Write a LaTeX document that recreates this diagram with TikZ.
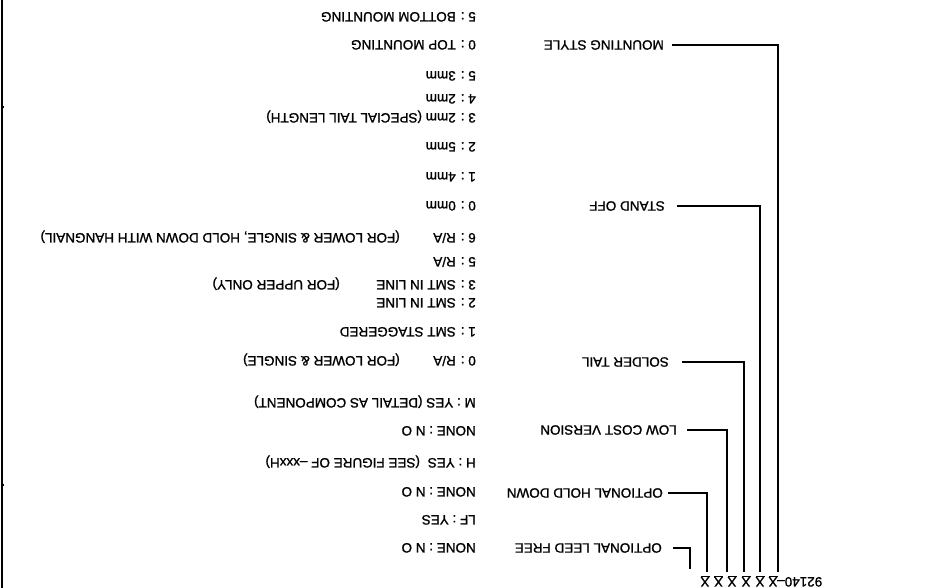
\documentclass[tikz,border=0pt]{standalone}
\usepackage{fontspec}
\setmainfont{Liberation Sans}
\newfontfamily\cadfont{Liberation Sans}[FakeBold=1.2,Ligatures=TeX]
\usetikzlibrary{calc}
\begin{document}
\begin{tikzpicture}[x=1pt,y=-1pt,
  txt/.style={rotate=180, inner sep=0pt, anchor=base west, font=\cadfont\fontsize{13.5}{15}\selectfont},
  lab/.style={txt, anchor=west},
  conn/.style={line width=1.6pt},
  border/.style={line width=2pt}]
\useasboundingbox (0,0) rectangle (944,588);
% left border with ticks
\draw[border] (1.5,0) -- (1.5,588);
\draw[line width=1.5pt] (1.5,107) -- (4,107) (1.5,485) -- (4,485);

% option values
\node[txt] (v1) at (476,12.2) {5 : BOTTOM MOUNTING};
\node[txt] (v2) at (476,40.2) {0 : TOP MOUNTING};
\node[txt] (v3) at (476,71.2) {5 : 3mm};
\node[txt] (v4) at (476,94.2) {4 : 2mm};
\node[txt] (v5) at (476,113.2) {3 : 2mm (SPECIAL TAIL LENGTH)};
\node[txt] (v6) at (476,142.2) {2 : 5mm};
\node[txt] (v7) at (476,172.2) {1 : 4mm};
\node[txt] (v8) at (476,201.2) {0 : 0mm};
\node[txt] (v9) at (476,233.2) {6 : R/A};
\node[txt] (p9) at (400,233.2) {(FOR LOWER \& SINGLE, HOLD DOWN WITH HANGNAIL)};
\node[txt] (v10) at (476,257.2) {5 : R/A};
\node[txt] (v11) at (476,280.2) {3 : SMT IN LINE};
\node[txt] (p11) at (340,280.2) {(FOR UPPER ONLY)};
\node[txt] (v12) at (476,298.2) {2 : SMT IN LINE};
\node[txt] (v13) at (476,327.2) {1 : SMT STAGGERED};
\node[txt] (v14) at (476,356.2) {0 : R/A};
\node[txt] (p14) at (400,356.2) {(FOR LOWER \& SINGLE)};
\node[txt] (v15) at (476,398.2) {M : YES (DETAIL AS COMPONENT)};
\node[txt] (v16) at (476,426.2) {NONE : N O};
\node[txt] (v17) at (476,458.2) {H : YES\hspace{0.3em} (SEE FIGURE OF –xxxH)};
\node[txt] (v18) at (476,487.2) {NONE : N O};
\node[txt] (v19) at (476,515.2) {LF : YES};
\node[txt] (v20) at (476,543.2) {NONE : N O};

% category labels
\node[lab] (ms) at (664,45) {MOUNTING STYLE};
\node[lab] (so) at (665,206) {STAND OFF};
\node[lab] (st) at (669,362) {SOLDER TAIL};
\node[lab] (lc) at (677,430) {LOW COST VERSION};
\node[lab] (hd) at (663,493) {OPTIONAL HOLD DOWN};
\node[lab] (lf) at (662,548) {OPTIONAL LEED FREE};

% part number
\node[txt, anchor=base east] (pn) at (777,577.2) {92140–};
\foreach \i/\xx in {1/705,2/718.5,3/732,4/746,5/760,6/773}{
  \node[txt, anchor=base] (x\i) at (\xx,577.2) {\underline{X}};
}

% connector end points
\coordinate (b1) at (690,569);
\coordinate (b2) at (707,572);
\coordinate (b3) at (727,572);
\coordinate (b4) at (744,572);
\coordinate (b5) at (760,572);
\coordinate (b6) at (778,572);

\draw[conn] ($(ms.west)+(8,0)$) -| (b6);
\draw[conn] ($(so.west)+(12,0)$) -| (b5);
\draw[conn] ($(st.west)+(13,0)$) -| (b4);
\draw[conn] ($(lc.west)+(10,0)$) -| (b3);
\draw[conn] ($(hd.west)+(5,0)$) -| (b2);
\draw[conn] ($(lf.west)+(11,0)$) -| (b1);
\end{tikzpicture}
\end{document}
